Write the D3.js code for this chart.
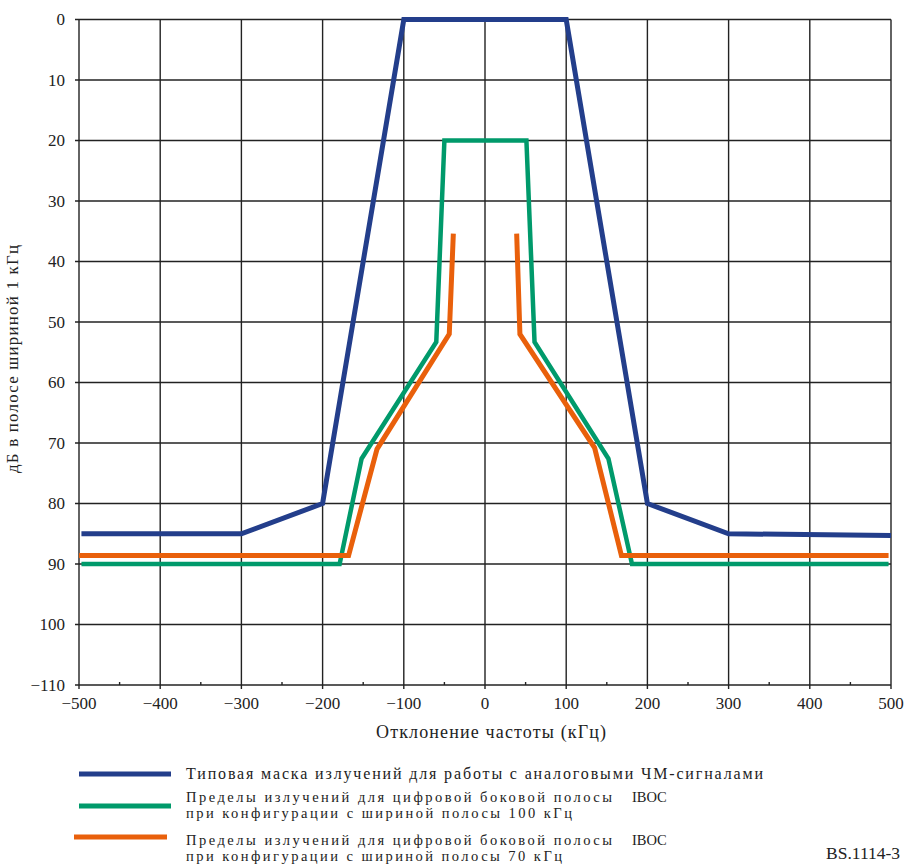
<!DOCTYPE html>
<html>
<head>
<meta charset="utf-8">
<script src="https://cdn.jsdelivr.net/npm/d3@7"></script>
<style>
  body { margin: 0; background: #fff; }
  svg text { font-family: "Liberation Serif", "Times New Roman", "DejaVu Serif", serif; fill: #222; }
</style>
</head>
<body>
<script>
// values (kHz offset, dB below carrier)
var xTicks = [-500, -400, -300, -200, -100, 0, 100, 200, 300, 400, 500];
var yTicks = [0, 10, 20, 30, 40, 50, 60, 70, 80, 90, 100, 110];
var yTickLabels = ["0", "10", "20", "30", "40", "50", "60", "70", "80", "90", "100", "\u2212110"];

var analogFreq = [-497, -300, -200, -100, 100, 200, 300, 500];
var analogDb   = [85, 85, 80, 0, 0, 80, 85, 85.3];

var iboc100Freq = [-497, -179, -152, -60, -50, 51, 61, 152, 181, 497];
var iboc100Db   = [90, 90, 72.6, 53.3, 20, 20, 53.3, 72.6, 90, 90];

var iboc70LeftFreq  = [-500, -168, -133, -44, -39];
var iboc70LeftDb    = [88.6, 88.6, 71, 52, 35.4];
var iboc70RightFreq = [39, 43, 135, 168, 497];
var iboc70RightDb   = [35.4, 52, 70.8, 88.6, 88.6];

var legendLabels = [
    ["Типовая маска излучений для работы с аналоговыми ЧМ-сигналами"],
    ["Пределы излучений для цифровой боковой полосы", "при конфигурации с шириной полосы 100 кГц"],
    ["Пределы излучений для цифровой боковой полосы", "при конфигурации с шириной полосы 70 кГц"]
];

var blue = "#233e8b", green = "#009a6b", orange = "#e9600b";

var width = 907, height = 868;
var margin = {left: 79, top: 19.5};
var serif = "Liberation Serif, Times New Roman, DejaVu Serif, serif";

var svg = d3.select("body").append("svg")
        .attr("width", width)
        .attr("height", height)
        .attr("font-family", serif);

var x = d3.scaleLinear().domain([-500, 500]).range([margin.left, 891]);
var y = d3.scaleLinear().domain([0, 110]).range([margin.top, 685]);

//grid
var grid = svg.append("g").attr("stroke", "#222").attr("stroke-width", 1.4);
grid.selectAll(".vg").data(xTicks).enter().append("line")
        .attr("x1", function(d) { return x(d); })
        .attr("x2", function(d) { return x(d); })
        .attr("y1", y(0))
        .attr("y2", y(110) + 4);
grid.selectAll(".hg").data(yTicks).enter().append("line")
        .attr("x1", x(-500) - 4)
        .attr("x2", x(500))
        .attr("y1", function(d) { return y(d); })
        .attr("y2", function(d) { return y(d); });

//minor ticks on bottom axis
grid.selectAll(".mt").data(d3.range(-450, 500, 100)).enter().append("line")
        .attr("x1", function(d) { return x(d); })
        .attr("x2", function(d) { return x(d); })
        .attr("y1", y(110))
        .attr("y2", y(110) - 3);

//tick labels
svg.append("g").selectAll("text").data(xTicks).enter().append("text")
        .attr("x", function(d) { return x(d); })
        .attr("y", 709)
        .attr("text-anchor", "middle")
        .attr("font-size", 17)
        .text(function(d) { return d < 0 ? "\u2212" + Math.abs(d) : d; });

svg.append("g").selectAll("text").data(yTicks).enter().append("text")
        .attr("x", 65)
        .attr("y", function(d) { return y(d) + 5.5; })
        .attr("text-anchor", "end")
        .attr("font-size", 17)
        .text(function(d, i) { return yTickLabels[i]; });

//axis titles
svg.append("text")
        .attr("x", 491)
        .attr("y", 738)
        .attr("text-anchor", "middle")
        .attr("font-size", 18)
        .attr("textLength", 230)
        .attr("lengthAdjust", "spacing")
        .text("Отклонение частоты (кГц)");

svg.append("text")
        .attr("transform", "translate(18,359) rotate(-90)")
        .attr("text-anchor", "middle")
        .attr("font-size", 17)
        .attr("textLength", 228)
        .attr("lengthAdjust", "spacing")
        .text("дБ в полосе шириной 1 кГц");

//lines
var line = d3.line()
        .x(function(d) { return x(d[0]); })
        .y(function(d) { return y(d[1]); });

function drawSeries(freq, db, color, w) {
    svg.append("path")
            .datum(d3.zip(freq, db))
            .attr("d", line)
            .attr("fill", "none")
            .attr("stroke", color)
            .attr("stroke-width", w)
            .attr("stroke-linejoin", "miter");
}

drawSeries(iboc100Freq, iboc100Db, green, 4.5);
drawSeries(iboc70LeftFreq, iboc70LeftDb, orange, 5);
drawSeries(iboc70RightFreq, iboc70RightDb, orange, 5);
drawSeries(analogFreq, analogDb, blue, 5);

//legend
var legendColors = [blue, green, orange];
var legendLineY = [774, 806, 837];
var legendLineX = [[79, 171], [79, 171], [74, 167]];
var legendTextY = [779, 802, 845];
var legendWidths = [[577], [426, 386], [426, 376]];

legendColors.forEach(function(c, i) {
    svg.append("line")
            .attr("x1", legendLineX[i][0])
            .attr("x2", legendLineX[i][1])
            .attr("y1", legendLineY[i])
            .attr("y2", legendLineY[i])
            .attr("stroke", c)
            .attr("stroke-width", 5);
    legendLabels[i].forEach(function(s, j) {
        svg.append("text")
                .attr("x", 186)
                .attr("y", legendTextY[i] + j * 16)
                .attr("font-size", i === 0 ? 16 : 14.5)
                .attr("textLength", legendWidths[i][j])
                .attr("lengthAdjust", "spacing")
                .text(s);
    });
    if (i > 0) {
        svg.append("text")
                .attr("x", 632)
                .attr("y", legendTextY[i])
                .attr("font-size", 14.5)
                .text("IBOC");
    }
});

svg.append("text")
        .attr("x", 826)
        .attr("y", 859)
        .attr("font-size", 17.5)
        .text("BS.1114-3");
</script>
</body>
</html>
